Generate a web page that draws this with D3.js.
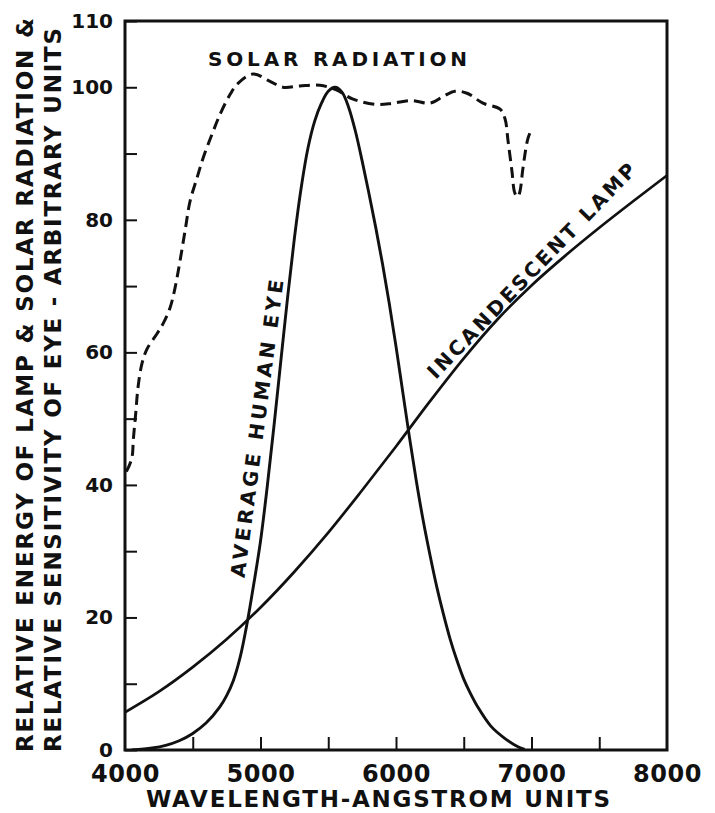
<!DOCTYPE html>
<html>
<head>
<meta charset="utf-8">
<script src="https://cdn.jsdelivr.net/npm/d3@7/dist/d3.min.js"></script>
<style>
  html, body { margin: 0; padding: 0; background: #fff; }
  svg { display: block; }
  text { font-family: "DejaVu Sans", "Liberation Sans", sans-serif; font-weight: bold; fill: #111; }
</style>
</head>
<body>
<svg id="chart" width="715" height="813"></svg>
<script>
// ---- Data ----
const xTickLabels = [4000, 5000, 6000, 7000, 8000];
const xMinorTicks = [4500, 5000, 5500, 6000, 6500, 7000, 7500];
const yTickLabels = [0, 20, 40, 60, 80, 100, 110];
const yMinorTicks = [0, 10, 20, 30, 40, 50, 60, 70, 80, 90, 100, 110];

const eyeWavelengths = [4050, 4200, 4300, 4400, 4500, 4600, 4700, 4750, 4800, 4850, 4900, 4950, 5000, 5050, 5100, 5150, 5200, 5250, 5300, 5350, 5400, 5450, 5500, 5550, 5600, 5650, 5700, 5750, 5800, 5850, 5900, 5950, 6000, 6050, 6100, 6150, 6200, 6250, 6300, 6350, 6400, 6450, 6500, 6550, 6600, 6700, 6800, 6900, 6950];
const eyeValues      = [0, 0.3, 0.7, 1.4, 2.5, 4.1, 6.5, 8.2, 10.5, 14.0, 19.0, 25.0, 31.5, 39.8, 49.0, 58.7, 68.3, 77.2, 84.8, 90.8, 94.9, 97.6, 99.4, 100, 99.3, 97.0, 93.4, 88.9, 84.0, 78.9, 73.4, 67.4, 60.9, 54.0, 47.1, 40.6, 34.7, 29.5, 24.7, 20.5, 16.7, 13.5, 10.7, 8.5, 6.6, 3.6, 1.8, 0.5, 0.1];

const lampWavelengths = [4000, 4250, 4500, 4750, 5000, 5250, 5500, 5750, 6000, 6250, 6500, 6750, 7000, 7250, 7500, 7750, 8000];
const lampValues      = [5.7, 8.8, 12.5, 16.7, 21.5, 26.9, 32.8, 39.2, 45.8, 52.6, 59.1, 65.0, 70.1, 74.6, 78.8, 82.8, 86.7];

const solarWavelengths = [4010, 4050, 4062, 4080, 4096, 4125, 4162, 4236, 4280, 4332, 4369, 4406, 4443, 4480, 4531, 4576, 4642, 4701, 4775, 4834, 4945, 5070, 5166, 5291, 5439, 5560, 5683, 5867, 5978, 6118, 6251, 6347, 6435, 6524, 6642, 6768, 6804, 6827, 6856, 6878, 6900, 6915, 6937, 6974, 7004];
const solarValues      = [42, 44, 47, 51, 54.7, 58.3, 60.5, 62.8, 64.3, 66.7, 69.7, 73.8, 78.3, 82.8, 86.3, 89.3, 92.9, 95.9, 98.9, 100.6, 102, 100.9, 100, 100.2, 100.3, 99.6, 98.2, 97.4, 97.6, 98.0, 97.6, 98.6, 99.4, 99.1, 97.6, 96.7, 95.3, 91.9, 87.3, 84.0, 83.5, 84.3, 87.8, 92.3, 93.8];

const curveLabels = ["SOLAR RADIATION", "AVERAGE HUMAN EYE", "INCANDESCENT LAMP"];
const xTitle = "WAVELENGTH-ANGSTROM UNITS";
const yTitleLines = ["RELATIVE ENERGY OF LAMP & SOLAR RADIATION &", "RELATIVE SENSITIVITY OF EYE - ARBITRARY UNITS"];

// ---- Layout ----
const svg = d3.select("#chart");
const pLeft = 125, pRight = 667, pTop = 21, pBottom = 750;
const x = d3.scaleLinear().domain([4000, 8000]).range([pLeft, pRight]);
const y = d3.scaleLinear().domain([0, 110]).range([pBottom, pTop]);

const ink = "#111";

// clip
svg.append("clipPath").attr("id", "plot").append("rect")
  .attr("x", pLeft).attr("y", pTop).attr("width", pRight - pLeft).attr("height", pBottom - pTop);

// Axes ticks (inward)
const xTicksAxis = d3.axisBottom(x).tickValues(xMinorTicks).tickSizeInner(-13).tickSizeOuter(0).tickFormat("");
const gx1 = svg.append("g").attr("transform", `translate(0,${pBottom})`).call(xTicksAxis);
gx1.select(".domain").remove();
gx1.selectAll("line").attr("stroke", ink).attr("stroke-width", 2);

const xLabelAxis = d3.axisBottom(x).tickValues(xTickLabels).tickSize(0).tickPadding(15).tickFormat(d3.format("d"));
const gx2 = svg.append("g").attr("transform", `translate(0,${pBottom})`).call(xLabelAxis);
gx2.select(".domain").remove();
gx2.selectAll("text").attr("font-size", 24).attr("font-family", null).attr("fill", ink).style("letter-spacing", "0.5px");

const yTicksAxis = d3.axisLeft(y).tickValues(yMinorTicks).tickSizeInner(-12).tickSizeOuter(0).tickFormat("");
const gy1 = svg.append("g").attr("transform", `translate(${pLeft},0)`).call(yTicksAxis);
gy1.select(".domain").remove();
gy1.selectAll("line").attr("stroke", ink).attr("stroke-width", 2);

const yLabelAxis = d3.axisLeft(y).tickValues(yTickLabels).tickSize(0).tickPadding(12).tickFormat(d3.format("d"));
const gy2 = svg.append("g").attr("transform", `translate(${pLeft},0)`).call(yLabelAxis);
gy2.select(".domain").remove();
gy2.selectAll("text").attr("font-size", 20).attr("font-family", null).attr("fill", ink);

// Frame
svg.append("rect")
  .attr("x", pLeft).attr("y", pTop).attr("width", pRight - pLeft).attr("height", pBottom - pTop)
  .attr("fill", "none").attr("stroke", ink).attr("stroke-width", 3);

// Curves
const g = svg.append("g").attr("clip-path", "url(#plot)");
const lineMono = d3.line().x(d => x(d[0])).y(d => y(d[1])).curve(d3.curveMonotoneX);
const lineCR = d3.line().x(d => x(d[0])).y(d => y(d[1])).curve(d3.curveCatmullRom.alpha(0.5));

g.append("path").datum(d3.zip(lampWavelengths, lampValues))
  .attr("d", lineMono).attr("fill", "none").attr("stroke", ink).attr("stroke-width", 2.7);
g.append("path").datum(d3.zip(eyeWavelengths, eyeValues))
  .attr("d", lineCR).attr("fill", "none").attr("stroke", ink).attr("stroke-width", 2.9);
g.append("path").datum(d3.zip(solarWavelengths, solarValues))
  .attr("d", lineCR).attr("fill", "none").attr("stroke", ink).attr("stroke-width", 3)
  .attr("stroke-dasharray", "11,6");

// Curve labels
svg.append("text").text(curveLabels[0])
  .attr("x", x(4613)).attr("y", y(103.2))
  .attr("font-size", 20).attr("textLength", 259).attr("lengthAdjust", "spacing");

svg.append("text").text(curveLabels[1])
  .attr("transform", `translate(${x(4975)},${y(48.5)}) rotate(-82.5)`)
  .attr("text-anchor", "middle").attr("dy", "0.35em")
  .attr("font-size", 20).attr("textLength", 300).attr("lengthAdjust", "spacing");

svg.append("text").text(curveLabels[2])
  .attr("transform", `translate(${x(7000)},${y(72.3)}) rotate(-46)`)
  .attr("text-anchor", "middle").attr("dy", "0.35em")
  .attr("font-size", 20).attr("textLength", 290).attr("lengthAdjust", "spacing");

// Axis titles
svg.append("text").text(xTitle)
  .attr("x", 378).attr("y", 807).attr("text-anchor", "middle")
  .attr("font-size", 23).attr("textLength", 464).attr("lengthAdjust", "spacing");

svg.append("text").text(yTitleLines[0])
  .attr("transform", `translate(25,385) rotate(-90)`)
  .attr("text-anchor", "middle").attr("dy", "0.36em")
  .attr("font-size", 23).attr("textLength", 734).attr("lengthAdjust", "spacing");
svg.append("text").text(yTitleLines[1])
  .attr("transform", `translate(53,390) rotate(-90)`)
  .attr("text-anchor", "middle").attr("dy", "0.36em")
  .attr("font-size", 23).attr("textLength", 724).attr("lengthAdjust", "spacing");
</script>
</body>
</html>
